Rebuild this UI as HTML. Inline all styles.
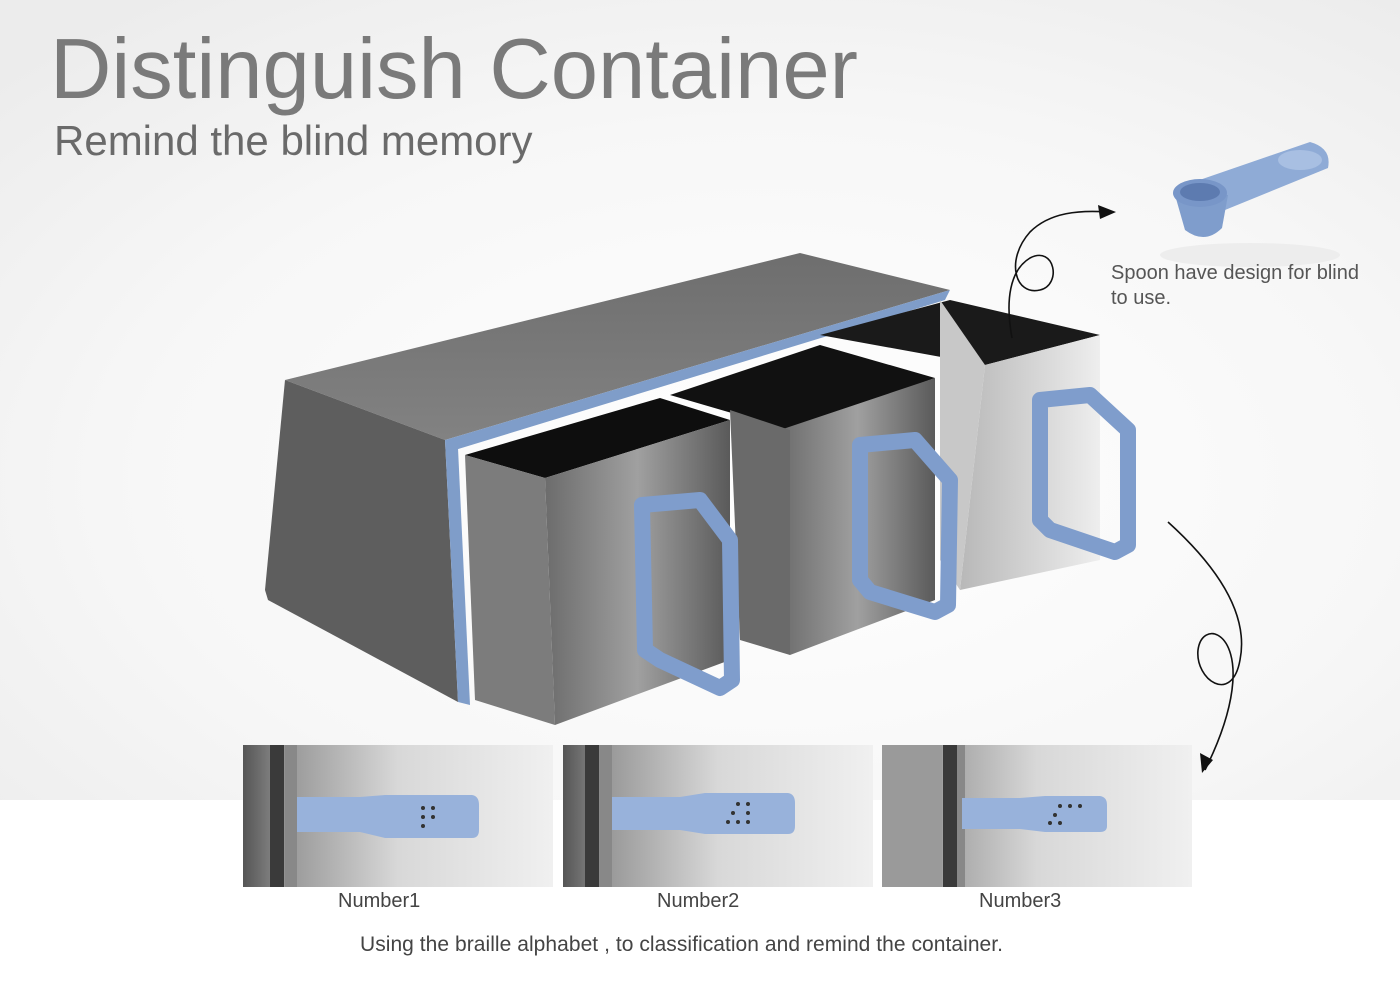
<!DOCTYPE html>
<html><head><meta charset="utf-8"><style>
html,body{margin:0;padding:0;width:1400px;height:990px;overflow:hidden;background:#fff}
svg{display:block}
text{font-family:"Liberation Sans",Arial,sans-serif}
</style></head><body>
<svg width="1400" height="990" viewBox="0 0 1400 990" xmlns="http://www.w3.org/2000/svg">
<defs>
<radialGradient id="bg" cx="0.55" cy="0.6" r="0.75">
<stop offset="0" stop-color="#ffffff"/><stop offset="0.6" stop-color="#f7f7f7"/><stop offset="1" stop-color="#ececec"/>
</radialGradient>
<linearGradient id="steel" x1="0" y1="0" x2="1" y2="0">
<stop offset="0" stop-color="#6c6c6c"/><stop offset="0.5" stop-color="#a0a0a0"/><stop offset="1" stop-color="#5a5a5a"/>
</linearGradient>
<linearGradient id="steel2" x1="0" y1="0" x2="1" y2="0">
<stop offset="0" stop-color="#b8b8b8"/><stop offset="1" stop-color="#eeeeee"/>
</linearGradient>
<linearGradient id="ph" x1="0" y1="0" x2="1" y2="0">
<stop offset="0" stop-color="#555"/><stop offset="0.15" stop-color="#999"/><stop offset="0.5" stop-color="#d8d8d8"/><stop offset="1" stop-color="#f0f0f0"/>
</linearGradient>
<linearGradient id="top" x1="0" y1="0" x2="0" y2="1">
<stop offset="0" stop-color="#6e6e6e"/><stop offset="1" stop-color="#828282"/>
</linearGradient>
</defs>
<rect width="1400" height="800" fill="url(#bg)"/>
<rect y="800" width="1400" height="190" fill="#fff"/>

<text x="50" y="98" font-size="85" fill="#7a7a7a">Distinguish Container</text>
<text x="54" y="155" font-size="42" fill="#6a6a6a">Remind the blind memory</text>

<polygon points="285,380 800,253 950,290 445,440" fill="url(#top)"/>
<polygon points="285,380 445,440 458,702 268,600 265,590" fill="#5e5e5e"/>
<polygon points="445,440 950,290 945,300 455,450" fill="#7f9dc9"/>
<polygon points="445,440 458,448 470,705 458,702" fill="#7f9dc9"/>
<polygon points="820,335 950,300 1100,335 985,365" fill="#1a1a1a"/>
<polygon points="985,365 1100,335 1100,560 960,590" fill="url(#steel2)"/>
<polygon points="940,300 985,365 960,590 940,560" fill="#c8c8c8"/>
<polygon points="670,395 820,345 935,378 790,430" fill="#111"/>
<polygon points="780,430 935,378 935,600 790,655" fill="url(#steel)"/>
<polygon points="730,410 790,430 790,655 740,640" fill="#6a6a6a"/>
<polygon points="465,455 660,398 730,420 545,478" fill="#0e0e0e"/>
<polygon points="545,478 730,420 730,660 555,725" fill="url(#steel)"/>
<polygon points="465,455 545,478 555,725 475,700" fill="#7c7c7c"/>
<g fill="none" stroke="#7f9dcc" stroke-linecap="round" stroke-linejoin="round">
<path d="M642,505 L700,500 L730,540 L732,680 L720,688 L660,660 L645,650 Z" stroke-width="16"/>
<path d="M860,445 L915,440 L950,480 L948,605 L935,612 L870,592 L860,580 Z" stroke-width="16"/>
<path d="M1040,400 L1090,395 L1128,430 L1128,545 L1115,552 L1050,530 L1040,520 Z" stroke-width="16"/>
</g>
<ellipse cx="1250" cy="255" rx="90" ry="12" fill="#ededed"/>
<path d="M1185,185 L1310,142 Q1332,148 1328,168 L1225,210 Z" fill="#8fabd6"/>
<ellipse cx="1300" cy="160" rx="22" ry="10" fill="#a8bfe2"/>
<path d="M1175,195 L1185,230 Q1205,245 1222,228 L1228,195 Z" fill="#7f9dcc"/>
<ellipse cx="1200" cy="193" rx="27" ry="14" fill="#7896c8"/>
<ellipse cx="1200" cy="192" rx="20" ry="9" fill="#5d7bb0"/>
<text x="1111" y="279" font-size="20" fill="#555">Spoon have design for blind</text>
<text x="1111" y="304" font-size="20" fill="#555">to use.</text>
<g fill="none" stroke="#111" stroke-width="1.6">
<path d="M1012,338 C1005,300 1010,270 1030,258 C1055,245 1062,285 1040,290 C1015,296 1005,260 1030,232 C1050,212 1080,210 1108,212"/>
<path d="M1168,522 C1210,560 1250,610 1240,660 C1232,705 1195,680 1198,650 C1202,620 1240,630 1232,690 C1228,720 1215,750 1205,770"/>
</g>
<polygon points="1116,212 1098,205 1100,219" fill="#111"/>
<polygon points="1202,773 1200,753 1213,760" fill="#111"/>

<g>
<rect x="243" y="745" width="310" height="142" fill="url(#ph)"/>
<rect x="270" y="745" width="14" height="142" fill="#3a3a3a"/><rect x="285" y="745" width="12" height="142" fill="#888"/>
<path d="M297,797 L360,797 L385,795 L472,795 Q479,796 479,805 L479,830 Q479,838 472,838 L385,838 L360,832 L297,832 Z" fill="#98b2db"/>
<rect x="563" y="745" width="310" height="142" fill="url(#ph)"/>
<rect x="585" y="745" width="14" height="142" fill="#3a3a3a"/><rect x="600" y="745" width="12" height="142" fill="#888"/>
<path d="M612,797 L680,797 L705,793 L788,793 Q795,794 795,803 L795,826 Q795,834 788,834 L705,834 L680,830 L612,830 Z" fill="#98b2db"/>
<rect x="882" y="745" width="310" height="142" fill="url(#ph)"/>
<rect x="882" y="745" width="60" height="142" fill="#9a9a9a"/>
<rect x="943" y="745" width="14" height="142" fill="#3a3a3a"/><rect x="957" y="745" width="8" height="142" fill="#888"/>
<path d="M962,798 L1020,798 L1045,796 L1100,796 Q1107,797 1107,805 L1107,826 Q1107,832 1100,832 L1045,832 L1020,829 L962,829 Z" fill="#98b2db"/>
<g fill="#333">
<circle cx="423" cy="808" r="2"/><circle cx="433" cy="808" r="2"/><circle cx="423" cy="817" r="2"/><circle cx="433" cy="817" r="2"/><circle cx="423" cy="826" r="2"/>
<circle cx="738" cy="804" r="2"/><circle cx="748" cy="804" r="2"/><circle cx="733" cy="813" r="2"/><circle cx="748" cy="813" r="2"/><circle cx="728" cy="822" r="2"/><circle cx="738" cy="822" r="2"/><circle cx="748" cy="822" r="2"/>
<circle cx="1060" cy="806" r="2"/><circle cx="1070" cy="806" r="2"/><circle cx="1080" cy="806" r="2"/><circle cx="1055" cy="815" r="2"/><circle cx="1050" cy="823" r="2"/><circle cx="1060" cy="823" r="2"/>
</g>
</g>
<text x="338" y="907" font-size="20" fill="#444">Number1</text>
<text x="657" y="907" font-size="20" fill="#444">Number2</text>
<text x="979" y="907" font-size="20" fill="#444">Number3</text>
<text x="360" y="951" font-size="21" fill="#444" textLength="643">Using the braille alphabet , to classification and remind the container.</text>
</svg>
</body></html>
